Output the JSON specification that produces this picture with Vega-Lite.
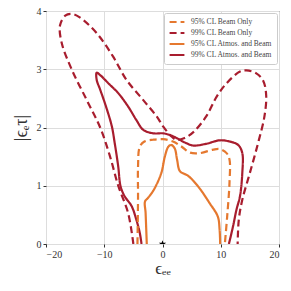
{
  "$schema": "https://vega.github.io/schema/vega-lite/v6.json",
  "width": 233,
  "height": 233,
  "autosize": {"type": "none"},
  "padding": {"left": 46, "top": 11, "right": 12, "bottom": 47},
  "background": "white",
  "config": {
    "view": {"stroke": "#333333", "strokeWidth": 1},
    "font": "Liberation Serif",
    "axis": {
      "labelFont": "Liberation Serif", "labelFontSize": 10, "labelColor": "#333",
      "titleFont": "Liberation Serif", "titleFontWeight": "normal", "titleColor": "#333",
      "gridColor": "#dddddd", "gridWidth": 1, "domain": false,
      "tickColor": "#333", "tickSize": 3, "labelPadding": 2
    }
  },
  "datasets": {
    "curves": [
      {"s": "99% CL Beam Only", "i": 0, "x": -5.0, "y": 0},
      {"s": "99% CL Beam Only", "i": 1, "x": -5.9, "y": 0.53},
      {"s": "99% CL Beam Only", "i": 2, "x": -7.6, "y": 1.0},
      {"s": "99% CL Beam Only", "i": 3, "x": -9.0, "y": 1.5},
      {"s": "99% CL Beam Only", "i": 4, "x": -10.7, "y": 2.0},
      {"s": "99% CL Beam Only", "i": 5, "x": -13.0, "y": 2.47},
      {"s": "99% CL Beam Only", "i": 6, "x": -15.6, "y": 3.0},
      {"s": "99% CL Beam Only", "i": 7, "x": -17.3, "y": 3.45},
      {"s": "99% CL Beam Only", "i": 8, "x": -17.6, "y": 3.75},
      {"s": "99% CL Beam Only", "i": 9, "x": -16.7, "y": 3.92},
      {"s": "99% CL Beam Only", "i": 10, "x": -15.6, "y": 3.95},
      {"s": "99% CL Beam Only", "i": 11, "x": -14.2, "y": 3.89},
      {"s": "99% CL Beam Only", "i": 12, "x": -11.3, "y": 3.62},
      {"s": "99% CL Beam Only", "i": 13, "x": -8.5, "y": 3.22},
      {"s": "99% CL Beam Only", "i": 14, "x": -6.2, "y": 2.82},
      {"s": "99% CL Beam Only", "i": 15, "x": -3.3, "y": 2.47},
      {"s": "99% CL Beam Only", "i": 16, "x": -1.0, "y": 2.19},
      {"s": "99% CL Beam Only", "i": 17, "x": 0.1, "y": 2.02},
      {"s": "99% CL Beam Only", "i": 18, "x": 1.5, "y": 1.85},
      {"s": "99% CL Beam Only", "i": 19, "x": 2.4, "y": 1.79},
      {"s": "99% CL Beam Only", "i": 20, "x": 3.8, "y": 1.82},
      {"s": "99% CL Beam Only", "i": 21, "x": 5.3, "y": 1.92},
      {"s": "99% CL Beam Only", "i": 22, "x": 7.5, "y": 2.19},
      {"s": "99% CL Beam Only", "i": 23, "x": 9.3, "y": 2.53},
      {"s": "99% CL Beam Only", "i": 24, "x": 11.0, "y": 2.76},
      {"s": "99% CL Beam Only", "i": 25, "x": 13.3, "y": 2.96},
      {"s": "99% CL Beam Only", "i": 26, "x": 14.4, "y": 2.98},
      {"s": "99% CL Beam Only", "i": 27, "x": 16.1, "y": 2.93},
      {"s": "99% CL Beam Only", "i": 28, "x": 17.3, "y": 2.8},
      {"s": "99% CL Beam Only", "i": 29, "x": 17.8, "y": 2.55},
      {"s": "99% CL Beam Only", "i": 30, "x": 17.5, "y": 2.19},
      {"s": "99% CL Beam Only", "i": 31, "x": 16.4, "y": 1.73},
      {"s": "99% CL Beam Only", "i": 32, "x": 15.0, "y": 1.22},
      {"s": "99% CL Beam Only", "i": 33, "x": 13.7, "y": 0.76},
      {"s": "99% CL Beam Only", "i": 34, "x": 13.1, "y": 0.42},
      {"s": "99% CL Beam Only", "i": 35, "x": 12.9, "y": 0},

      {"s": "99% CL Atmos. and Beam", "i": 0, "x": -3.6, "y": 0},
      {"s": "99% CL Atmos. and Beam", "i": 1, "x": -3.9, "y": 0.19},
      {"s": "99% CL Atmos. and Beam", "i": 2, "x": -4.5, "y": 0.42},
      {"s": "99% CL Atmos. and Beam", "i": 3, "x": -5.3, "y": 0.65},
      {"s": "99% CL Atmos. and Beam", "i": 4, "x": -6.5, "y": 0.82},
      {"s": "99% CL Atmos. and Beam", "i": 5, "x": -7.2, "y": 0.99},
      {"s": "99% CL Atmos. and Beam", "i": 6, "x": -7.6, "y": 1.33},
      {"s": "99% CL Atmos. and Beam", "i": 7, "x": -8.2, "y": 1.73},
      {"s": "99% CL Atmos. and Beam", "i": 8, "x": -8.7, "y": 2.02},
      {"s": "99% CL Atmos. and Beam", "i": 9, "x": -9.7, "y": 2.36},
      {"s": "99% CL Atmos. and Beam", "i": 10, "x": -10.7, "y": 2.65},
      {"s": "99% CL Atmos. and Beam", "i": 11, "x": -11.3, "y": 2.82},
      {"s": "99% CL Atmos. and Beam", "i": 12, "x": -11.3, "y": 2.94},
      {"s": "99% CL Atmos. and Beam", "i": 13, "x": -10.7, "y": 2.9},
      {"s": "99% CL Atmos. and Beam", "i": 14, "x": -9.3, "y": 2.76},
      {"s": "99% CL Atmos. and Beam", "i": 15, "x": -7.6, "y": 2.59},
      {"s": "99% CL Atmos. and Beam", "i": 16, "x": -5.9, "y": 2.36},
      {"s": "99% CL Atmos. and Beam", "i": 17, "x": -4.5, "y": 2.13},
      {"s": "99% CL Atmos. and Beam", "i": 18, "x": -3.3, "y": 1.96},
      {"s": "99% CL Atmos. and Beam", "i": 19, "x": -1.6, "y": 1.9},
      {"s": "99% CL Atmos. and Beam", "i": 20, "x": 0.1, "y": 1.9},
      {"s": "99% CL Atmos. and Beam", "i": 21, "x": 1.3, "y": 1.87},
      {"s": "99% CL Atmos. and Beam", "i": 22, "x": 2.4, "y": 1.82},
      {"s": "99% CL Atmos. and Beam", "i": 23, "x": 4.1, "y": 1.73},
      {"s": "99% CL Atmos. and Beam", "i": 24, "x": 5.3, "y": 1.69},
      {"s": "99% CL Atmos. and Beam", "i": 25, "x": 7.5, "y": 1.72},
      {"s": "99% CL Atmos. and Beam", "i": 26, "x": 9.8, "y": 1.78},
      {"s": "99% CL Atmos. and Beam", "i": 27, "x": 11.5, "y": 1.76},
      {"s": "99% CL Atmos. and Beam", "i": 28, "x": 13.0, "y": 1.7},
      {"s": "99% CL Atmos. and Beam", "i": 29, "x": 13.7, "y": 1.56},
      {"s": "99% CL Atmos. and Beam", "i": 30, "x": 13.7, "y": 1.22},
      {"s": "99% CL Atmos. and Beam", "i": 31, "x": 13.3, "y": 0.82},
      {"s": "99% CL Atmos. and Beam", "i": 32, "x": 12.7, "y": 0.59},
      {"s": "99% CL Atmos. and Beam", "i": 33, "x": 12.1, "y": 0.3},
      {"s": "99% CL Atmos. and Beam", "i": 34, "x": 11.4, "y": 0},

      {"s": "95% CL Beam Only", "i": 0, "x": -4.3, "y": 0},
      {"s": "95% CL Beam Only", "i": 1, "x": -4.2, "y": 0.8},
      {"s": "95% CL Beam Only", "i": 2, "x": -4.2, "y": 1.33},
      {"s": "95% CL Beam Only", "i": 3, "x": -3.9, "y": 1.67},
      {"s": "95% CL Beam Only", "i": 4, "x": -3.1, "y": 1.76},
      {"s": "95% CL Beam Only", "i": 5, "x": -1.6, "y": 1.79},
      {"s": "95% CL Beam Only", "i": 6, "x": 0.1, "y": 1.8},
      {"s": "95% CL Beam Only", "i": 7, "x": 1.8, "y": 1.76},
      {"s": "95% CL Beam Only", "i": 8, "x": 3.3, "y": 1.67},
      {"s": "95% CL Beam Only", "i": 9, "x": 4.7, "y": 1.57},
      {"s": "95% CL Beam Only", "i": 10, "x": 6.4, "y": 1.56},
      {"s": "95% CL Beam Only", "i": 11, "x": 8.7, "y": 1.62},
      {"s": "95% CL Beam Only", "i": 12, "x": 9.8, "y": 1.63},
      {"s": "95% CL Beam Only", "i": 13, "x": 11.0, "y": 1.56},
      {"s": "95% CL Beam Only", "i": 14, "x": 11.5, "y": 1.45},
      {"s": "95% CL Beam Only", "i": 15, "x": 11.5, "y": 1.05},
      {"s": "95% CL Beam Only", "i": 16, "x": 11.1, "y": 0.47},
      {"s": "95% CL Beam Only", "i": 17, "x": 10.7, "y": 0},

      {"s": "95% CL Atmos. and Beam", "i": 0, "x": -2.7, "y": 0},
      {"s": "95% CL Atmos. and Beam", "i": 1, "x": -2.9, "y": 0.53},
      {"s": "95% CL Atmos. and Beam", "i": 2, "x": -3.0, "y": 0.73},
      {"s": "95% CL Atmos. and Beam", "i": 3, "x": -2.5, "y": 0.79},
      {"s": "95% CL Atmos. and Beam", "i": 4, "x": -1.5, "y": 0.93},
      {"s": "95% CL Atmos. and Beam", "i": 5, "x": -0.2, "y": 1.22},
      {"s": "95% CL Atmos. and Beam", "i": 6, "x": 0.4, "y": 1.5},
      {"s": "95% CL Atmos. and Beam", "i": 7, "x": 1.0, "y": 1.67},
      {"s": "95% CL Atmos. and Beam", "i": 8, "x": 1.5, "y": 1.7},
      {"s": "95% CL Atmos. and Beam", "i": 9, "x": 2.1, "y": 1.64},
      {"s": "95% CL Atmos. and Beam", "i": 10, "x": 2.5, "y": 1.45},
      {"s": "95% CL Atmos. and Beam", "i": 11, "x": 3.0, "y": 1.25},
      {"s": "95% CL Atmos. and Beam", "i": 12, "x": 4.4, "y": 1.17},
      {"s": "95% CL Atmos. and Beam", "i": 13, "x": 6.1, "y": 0.99},
      {"s": "95% CL Atmos. and Beam", "i": 14, "x": 8.1, "y": 0.7},
      {"s": "95% CL Atmos. and Beam", "i": 15, "x": 9.5, "y": 0.47},
      {"s": "95% CL Atmos. and Beam", "i": 16, "x": 9.8, "y": 0.25},
      {"s": "95% CL Atmos. and Beam", "i": 17, "x": 9.9, "y": 0}
    ],
    "star": [{"x": 0, "y": 0}]
  },
  "layer": [
    {
      "data": {"name": "curves"},
      "mark": {"type": "line", "interpolate": "catmull-rom", "strokeWidth": 2.2, "clip": true},
      "encoding": {
        "x": {"field": "x", "type": "quantitative", "scale": {"domain": [-20, 20], "nice": false},
          "axis": {"values": [-20, -10, 0, 10, 20], "format": "d", "title": "ϵₑₑ", "titleFontSize": 17, "titlePadding": 1}},
        "y": {"field": "y", "type": "quantitative", "scale": {"domain": [0, 4], "nice": false},
          "axis": {"values": [0, 1, 2, 3, 4], "format": "d", "title": "|ϵₑτ|", "titleFontSize": 18, "titlePadding": 6}},
        "order": {"field": "i", "type": "quantitative"},
        "color": {"field": "s", "type": "nominal",
          "scale": {"domain": ["95% CL Beam Only", "99% CL Beam Only", "95% CL Atmos. and Beam", "99% CL Atmos. and Beam"],
                    "range": ["#e5782f", "#a81d2e", "#e5782f", "#a81d2e"]},
          "legend": {"title": null, "orient": "top-right", "offset": 2, "labelFont": "Liberation Serif", "labelFontSize": 7.5,
            "labelColor": "#444", "symbolStrokeWidth": 2.2, "symbolSize": 220, "rowPadding": 1, "clipHeight": 10, "padding": 4,
            "strokeColor": "#cccccc", "fillColor": "white", "cornerRadius": 2, "labelOffset": 5}},
        "strokeDash": {"field": "s", "type": "nominal",
          "scale": {"domain": ["95% CL Beam Only", "99% CL Beam Only", "95% CL Atmos. and Beam", "99% CL Atmos. and Beam"],
                    "range": [[7, 4], [7, 4], [1, 0], [1, 0]]},
          "legend": null}
      }
    },
    {
      "data": {"name": "star"},
      "mark": {"type": "point", "filled": true, "color": "black", "size": 60, "opacity": 1, "clip": true,
        "shape": "M0,-1L0.2245,-0.309L0.951,-0.309L0.363,0.118L0.588,0.809L0,0.382L-0.588,0.809L-0.363,0.118L-0.951,-0.309L-0.2245,-0.309Z"},
      "encoding": {
        "x": {"field": "x", "type": "quantitative"},
        "y": {"field": "y", "type": "quantitative"}
      }
    }
  ]
}
